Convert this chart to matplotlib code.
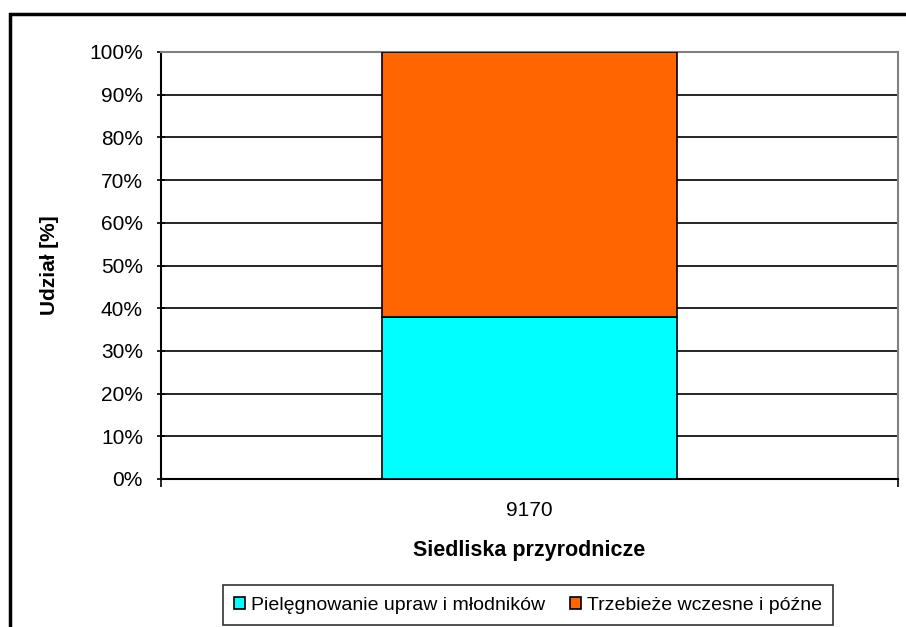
import matplotlib
matplotlib.use('Agg')
import matplotlib.pyplot as plt
import matplotlib.patches as mpatches
import numpy as np

matplotlib.rcParams['font.family'] = ['Liberation Sans', 'DejaVu Sans']

# udział zabiegów w siedlisku
categories = ['9170']
series_names = ['Pielęgnowanie upraw i młodników', 'Trzebieże wczesne i późne']
share_pielegn = [38.0]
share_trzeb = [62.0]
y_ticks = np.arange(0, 101, 10)

W, H = 906, 627
fig = plt.figure(figsize=(W / 100, H / 100), dpi=100)
ax = fig.add_axes([161 / W, 1 - 479 / H, (898 - 161) / W, (479 - 52) / H])

x = np.arange(len(categories))
ax.bar(x, share_pielegn, width=0.4, color='#00FFFF', edgecolor='black', linewidth=1.2,
       label=series_names[0], zorder=3)
ax.bar(x, share_trzeb, bottom=share_pielegn, width=0.4, color='#FF6600', edgecolor='black',
       linewidth=1.2, label=series_names[1], zorder=3)

ax.set_xlim(-0.5, len(categories) - 0.5)
ax.set_ylim(0, 100)
ax.set_yticks(y_ticks)
ax.set_yticklabels(['%d%%' % v for v in y_ticks])
# linie siatki bez górnej (tam jest szara ramka)
ax.hlines(y_ticks[1:-1], -0.5, len(categories) - 0.5, color='black', linewidth=1.2, zorder=1)

# kategoria pod osią, znaczniki na granicach kategorii
ax.set_xticks(x)
ax.set_xticklabels(categories)
ax.tick_params(axis='x', length=0, pad=16, labelsize=15)
ax.set_xticks([-0.5, 0.5], minor=True)
ax.tick_params(axis='x', which='minor', length=6, width=1.2, direction='out')
ax.tick_params(axis='y', length=6, width=1.2, direction='inout', labelsize=15, pad=10)

for side in ['left', 'bottom']:
    ax.spines[side].set_color('black')
    ax.spines[side].set_linewidth(1.5)
for side in ['top', 'right']:
    ax.spines[side].set_color('#808080')
    ax.spines[side].set_linewidth(1.5)

ax.set_ylabel('Udział [%]', fontsize=15, fontweight='bold')
ax.yaxis.set_label_coords((59 - 161) / (898 - 161), 0.5)
ax.set_xlabel('Siedliska przyrodnicze', fontsize=15.5, fontweight='bold', labelpad=14.5)

leg = fig.legend(loc='upper center', bbox_to_anchor=(528 / W, 1 - 585 / H), ncol=2,
                 fontsize=14, frameon=True, fancybox=False, edgecolor='black',
                 handlelength=0.55, handleheight=0.55, handletextpad=0.3,
                 columnspacing=1.3, borderpad=0.6, borderaxespad=0)
leg.get_frame().set_linewidth(1.2)

# ramka wykresu
fig.patches.append(mpatches.Rectangle((10 / W, -0.1), 1.1, 1 - 13.5 / H + 0.1,
                                      transform=fig.transFigure, fill=False,
                                      edgecolor='black', linewidth=2.5))

plt.savefig('out.png', dpi=100)
